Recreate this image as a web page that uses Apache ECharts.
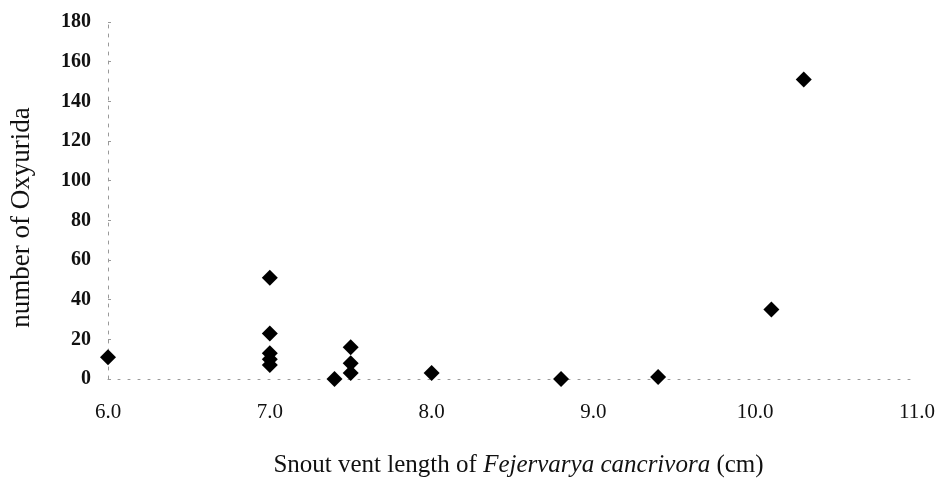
<!DOCTYPE html>
<html>
<head>
<meta charset="utf-8">
<script src="https://cdn.jsdelivr.net/npm/echarts@6/dist/echarts.min.js"></script>
<style>html,body{margin:0;padding:0;background:#fff;}#c{width:941px;height:487px;}</style>
</head>
<body>
<div id="c"></div>
<script>
// Data
const snoutVentLength = [6.0, 7.0, 7.0, 7.0, 7.0, 7.0, 7.4, 7.5, 7.5, 7.5, 8.0, 8.8, 9.4, 10.1, 10.3];
const oxyuridaCount   = [11, 51, 23, 13, 10, 7, 0, 16, 8, 3, 3, 0, 1, 35, 151];
const yTicks = [0, 20, 40, 60, 80, 100, 120, 140, 160, 180];
const xTicks = [6.0, 7.0, 8.0, 9.0, 10.0, 11.0];

const points = snoutVentLength.map((x, i) => [x, oxyuridaCount[i]]);

const chart = echarts.init(document.getElementById('c'), null, {renderer: 'canvas'});
const font = 'Liberation Serif';
chart.setOption({
  backgroundColor: '#ffffff',
  animation: false,
  grid: {left: 107, right: 24, top: 22, bottom: 108},
  xAxis: {
    type: 'value',
    min: xTicks[0], max: xTicks[xTicks.length - 1], interval: 1,
    name: 'Snout vent length of {i|Fejervarya cancrivora} (cm)',
    nameLocation: 'middle', nameGap: 74,
    nameTextStyle: {
      fontFamily: font, fontSize: 25, color: '#111',
      padding: [0, 0, 0, 12],
      rich: {i: {fontFamily: font, fontSize: 25, fontStyle: 'italic', color: '#111'}}
    },
    axisLine: {show: true, lineStyle: {color: '#999', width: 1, type: [2, 8]}},
    axisTick: {show: false},
    splitLine: {show: false},
    axisLabel: {
      margin: 23, fontFamily: font, fontSize: 21, color: '#111',
      formatter: v => Number(v).toFixed(1)
    }
  },
  yAxis: {
    type: 'value',
    min: yTicks[0], max: yTicks[yTicks.length - 1], interval: 20,
    name: 'number of Oxyurida',
    nameLocation: 'middle', nameGap: 73,
    nameTextStyle: {fontFamily: font, fontSize: 27, color: '#111', padding: [0, 34, 0, 0]},
    axisLine: {show: true, lineStyle: {color: '#999', width: 1, type: [3, 6]}},
    axisTick: {show: true, length: 3, inside: true, lineStyle: {color: '#999'}},
    splitLine: {show: false},
    axisLabel: {margin: 17, fontFamily: font, fontSize: 20, color: '#111', fontWeight: 'bold'}
  },
  series: [{
    type: 'scatter',
    data: points,
    symbol: 'diamond',
    symbolSize: 16,
    clip: false,
    itemStyle: {color: '#000', opacity: 1}
  }]
});
</script>
</body>
</html>
